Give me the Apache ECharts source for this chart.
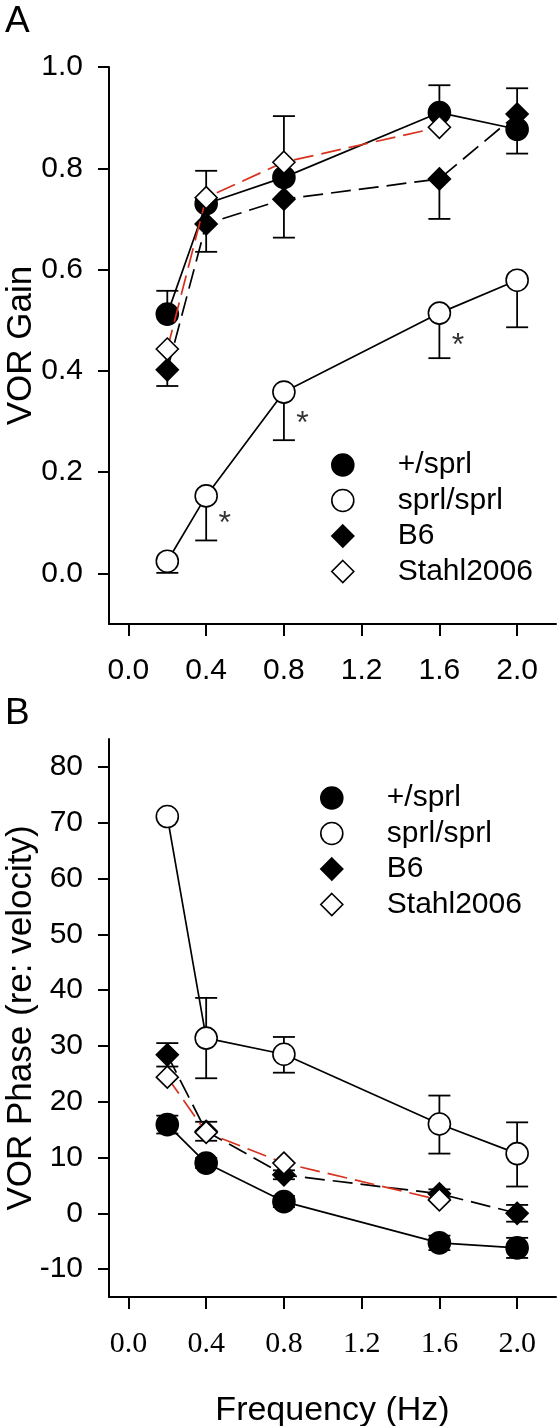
<!DOCTYPE html>
<html><head><meta charset="utf-8">
<script src="https://cdn.jsdelivr.net/npm/echarts@6/dist/echarts.min.js"></script>
<style>html,body{margin:0;padding:0;background:#fff}#c{width:558px;height:1426px}</style>
</head><body><div id="c"></div>
<script>
// ---------- data ----------
const freqs = [0.2, 0.4, 0.8, 1.6, 2.0];
const xTicks = [0.0, 0.4, 0.8, 1.2, 1.6, 2.0];
const gainTicks = [0.0, 0.2, 0.4, 0.6, 0.8, 1.0];
const phaseTicks = [-10, 0, 10, 20, 30, 40, 50, 60, 70, 80];
const seriesNames = ['+/sprl', 'sprl/sprl', 'B6', 'Stahl2006'];

// Panel A: VOR gain
const gainHet = [0.512, 0.73, 0.782, 0.910, 0.877];
const gainHetUp = [0.046, 0.065, 0.121, 0.054, 0];
const gainHetDn = [0, 0, 0, 0, 0.048];
const gainMut = [0.024, 0.153, 0.358, 0.514, 0.579];
const gainMutUp = [0, 0, 0, 0, 0];
const gainMutDn = [0.023, 0.088, 0.095, 0.089, 0.093];
const gainB6 = [0.402, 0.690, 0.739, 0.779, 0.907];
const gainB6Up = [0, 0, 0, 0, 0.051];
const gainB6Dn = [0.032, 0.055, 0.076, 0.079, 0];
const gainStahl = [0.443, 0.742, 0.812, 0.881, null];
const gainSig = [[0.4, 0.111], [0.8, 0.308], [1.6, 0.462]];

// Panel B: VOR phase
const phaseHet = [15.9, 9.0, 2.1, -5.3, -6.2];
const phaseHetUp = [1.6, 0.9, 1.0, 1.3, 1.8];
const phaseHetDn = [1.6, 0.9, 1.0, 1.3, 1.8];
const phaseMut = [71.1, 31.4, 28.5, 16.0, 10.7];
const phaseMutUp = [0, 7.2, 3.1, 5.1, 5.6];
const phaseMutDn = [0, 7.2, 3.3, 5.3, 5.9];
const phaseB6 = [28.4, 14.7, 6.9, 3.5, 0.0];
const phaseB6Up = [2.1, 1.7, 0.8, 0.8, 1.5];
const phaseB6Dn = [2.1, 1.7, 0.8, 0.8, 1.5];
const phaseStahl = [24.4, 14.5, 9.0, 2.4, null];

// ---------- helpers ----------
const SANS = 'Liberation Sans, Arial, sans-serif';
const SERIF = 'Liberation Serif, Times New Roman, serif';
const RED = '#d8321f';

function pts(vals) { return freqs.map((f, i) => [f, vals[i]]).filter(p => p[1] !== null); }
function errData(vals, up, dn) { return freqs.map((f, i) => [f, vals[i], up[i], dn[i]]); }

function errRender(params, api) {
  const x = api.value(0), y = api.value(1), up = api.value(2), dn = api.value(3);
  const st = { stroke: '#000', lineWidth: 1.8 };
  const half = 11;
  const kids = [];
  const p0 = api.coord([x, y]);
  [[up, 1], [dn, -1]].forEach(([e, s]) => {
    if (e > 0) {
      const p1 = api.coord([x, y + s * e]);
      kids.push({ type: 'line', shape: { x1: p0[0], y1: p0[1], x2: p1[0], y2: p1[1] }, style: st });
      kids.push({ type: 'line', shape: { x1: p1[0] - half, y1: p1[1], x2: p1[0] + half, y2: p1[1] }, style: st });
    }
  });
  return { type: 'group', children: kids };
}

const styles = [
  { symbol: 'circle', fill: '#000', line: '#000', dash: 'solid' },
  { symbol: 'circle', fill: '#fff', line: '#000', dash: 'solid' },
  { symbol: 'diamond', fill: '#000', line: '#000', dash: [20, 8] },
  { symbol: 'diamond', fill: '#fff', line: RED, dash: [20, 8] }
];

function lineSeries(idx, vals, axisIdx) {
  const s = styles[idx];
  return {
    type: 'line', name: seriesNames[idx], xAxisIndex: axisIdx, yAxisIndex: axisIdx,
    data: pts(vals), symbol: s.symbol, symbolSize: 22, z: 3 + idx,
    itemStyle: { color: s.fill, borderColor: '#000', borderWidth: 1.6 },
    lineStyle: { color: s.line, width: 1.7, type: s.dash },
    emphasis: { disabled: true }, animation: false
  };
}
function errSeries(vals, up, dn, axisIdx) {
  return {
    type: 'custom', xAxisIndex: axisIdx, yAxisIndex: axisIdx, z: 1,
    data: errData(vals, up, dn), renderItem: errRender,
    encode: { x: 0, y: 1 }, silent: true, animation: false
  };
}

function xAxisCfg(gridIdx, labelFont, name) {
  return {
    type: 'value', gridIndex: gridIdx, min: -0.1, max: 2.2,
    axisLine: { show: true, onZero: false, lineStyle: { color: '#000', width: 2 } },
    axisTick: { show: true, customValues: xTicks, length: 12, lineStyle: { color: '#000', width: 2 } },
    axisLabel: { customValues: xTicks, formatter: v => v.toFixed(1), fontSize: 30, color: '#000', fontFamily: labelFont, margin: 32 },
    splitLine: { show: false },
    name: name || '', nameLocation: 'middle', nameGap: 97, nameMoveOverlap: false,
    nameTextStyle: { fontSize: 34, color: '#000', fontFamily: SANS }
  };
}
function yAxisCfg(gridIdx, min, max, ticks, fmt, name) {
  return {
    type: 'value', gridIndex: gridIdx, min: min, max: max,
    axisLine: { show: true, onZero: false, lineStyle: { color: '#000', width: 2 } },
    axisTick: { show: true, customValues: ticks, length: 11, lineStyle: { color: '#000', width: 2 } },
    axisLabel: { customValues: ticks, formatter: fmt, fontSize: 30, color: '#000', fontFamily: SANS, margin: 26 },
    splitLine: { show: false },
    name: name, nameLocation: 'middle', nameGap: 70, nameMoveOverlap: false,
    nameTextStyle: { fontSize: 35, color: '#000', fontFamily: SANS }
  };
}
function legendCfg(left, top) {
  return {
    left: left, top: top, orient: 'vertical', itemWidth: 22, itemHeight: 22, itemGap: 5.5,
    selectedMode: false, padding: 0,
    textStyle: { fontSize: 30, color: '#000', fontFamily: SANS, padding: [0, 0, 0, 39] },
    data: seriesNames.map((n, i) => ({
      name: n, icon: styles[i].symbol,
      itemStyle: { color: styles[i].fill, borderColor: '#000', borderWidth: 1.6 }
    }))
  };
}

const chart = echarts.init(document.getElementById('c'), null, { renderer: 'canvas' });
chart.setOption({
  backgroundColor: '#fff',
  animation: false,
  title: [
    { text: 'A', left: 0, top: -2, textStyle: { fontSize: 37, fontWeight: 'normal', color: '#000', fontFamily: SANS } },
    { text: 'B', left: 0, top: 690, textStyle: { fontSize: 37, fontWeight: 'normal', color: '#000', fontFamily: SANS } }
  ],
  grid: [
    { left: 109, top: 67, width: 447, height: 557, containLabel: false, outerBoundsMode: 'none' },
    { left: 109, top: 739, width: 447, height: 558, containLabel: false, outerBoundsMode: 'none' }
  ],
  xAxis: [xAxisCfg(0, SANS), xAxisCfg(1, SERIF, 'Frequency (Hz)')],
  yAxis: [
    yAxisCfg(0, -0.1, 1.0, gainTicks, v => v.toFixed(1), 'VOR Gain'),
    yAxisCfg(1, -15, 85, phaseTicks, v => String(v), 'VOR Phase (re: velocity)')
  ],
  legend: [legendCfg(331, 450), legendCfg(320, 783)],
  series: [
    errSeries(gainHet, gainHetUp, gainHetDn, 0),
    errSeries(gainMut, gainMutUp, gainMutDn, 0),
    errSeries(gainB6, gainB6Up, gainB6Dn, 0),
    lineSeries(0, gainHet, 0),
    lineSeries(1, gainMut, 0),
    lineSeries(2, gainB6, 0),
    lineSeries(3, gainStahl, 0),
    {
      type: 'scatter', xAxisIndex: 0, yAxisIndex: 0, data: gainSig, symbolSize: 1,
      itemStyle: { color: 'transparent' }, silent: true, z: 10,
      label: { show: true, formatter: '*', position: 'inside', offset: [18.5, 7], fontSize: 32, color: '#000', fontFamily: SANS }
    },
    errSeries(phaseHet, phaseHetUp, phaseHetDn, 1),
    errSeries(phaseMut, phaseMutUp, phaseMutDn, 1),
    errSeries(phaseB6, phaseB6Up, phaseB6Dn, 1),
    lineSeries(0, phaseHet, 1),
    lineSeries(1, phaseMut, 1),
    lineSeries(2, phaseB6, 1),
    lineSeries(3, phaseStahl, 1)
  ]
});
</script></body></html>
